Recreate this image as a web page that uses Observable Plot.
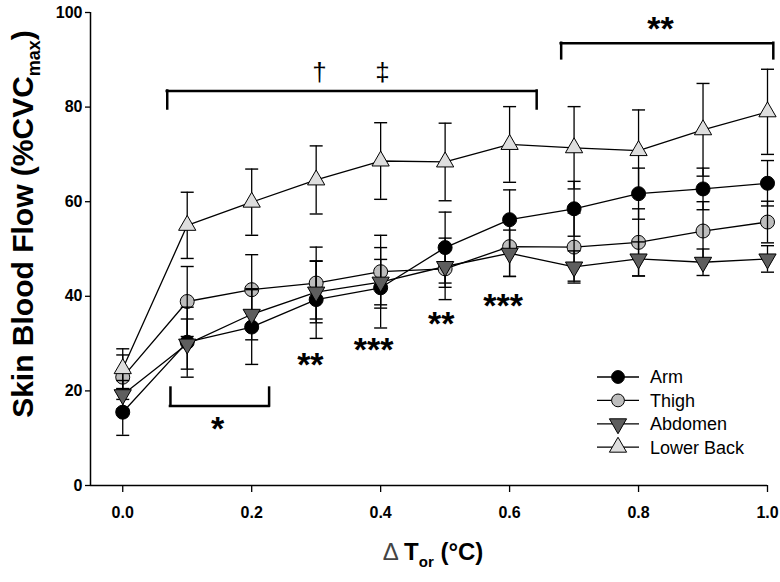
<!DOCTYPE html>
<html><head><meta charset="utf-8">
<script src="https://cdn.jsdelivr.net/npm/d3@7"></script>
<script src="https://cdn.jsdelivr.net/npm/@observablehq/plot@0.6"></script>
<style>
body{margin:0;background:#fff;}
#chart{width:780px;height:582px;}
</style>
</head><body><div id="chart"></div>
<script>
// ---- data ----
const deltaT = [0, 0.1, 0.2, 0.3, 0.4, 0.5, 0.6, 0.7, 0.8, 0.9, 1.0];
const arm       = [15.5, 30.3, 33.5, 39.3, 41.8, 50.3, 56.2, 58.5, 61.7, 62.7, 63.9];
const armSD     = [4.9, 7.4, 7.9, 8.2, 8.5, 7.5, 6.3, 5.8, 5.4, 4.4, 4.8];
const thigh     = [22.9, 38.9, 41.4, 42.8, 45.2, 45.8, 50.5, 50.4, 51.4, 53.8, 55.7];
const thighSD   = [4.7, 7.4, 7.4, 7.6, 7.7, 6.5, 6.3, 7.2, 7.1, 6.2, 4.4];
const abdomen   = [19.2, 29.9, 36.2, 40.9, 43.0, 46.3, 49.1, 46.2, 47.9, 47.2, 47.9];
const abdomenSD = [3.0, 5.3, 5.4, 6.5, 4.8, 4.4, 4.9, 3.4, 3.6, 2.8, 2.8];
const lowerBack   = [24.7, 55.0, 59.9, 64.6, 68.6, 68.4, 72.1, 71.4, 70.8, 75.2, 79.0];
const lowerBackSD = [4.2, 7.0, 7.0, 7.2, 8.1, 8.2, 8.0, 8.7, 8.6, 9.8, 9.0];
const seriesNames = ["Arm", "Thigh", "Abdomen", "Lower Back"];
const xTicks = [0, 0.2, 0.4, 0.6, 0.8, 1.0];
const yTicks = [0, 20, 40, 60, 80, 100];
// significance brackets (data units)
const bracketX1 = [0.069, 0.680, 0.074];
const bracketX2 = [0.642, 1.009, 0.227];
const bracketBar = [83.4, 93.5, 16.8];
const bracketEnd = [79.6, 90.2, 20.6];
// significance labels (data units)
const sigX = [0.147, 0.291, 0.389, 0.494, 0.590, 0.834];
const sigY = [12.7, 26.4, 29.4, 35.0, 38.8, 97.3];
const sigText = ["*", "**", "***", "**", "***", "**"];
const dagX = [0.305, 0.403];
const dagY = [87.3, 87.3];
const dagText = ["\u2020", "\u2021"];

// ---- tables ----
const values = [arm, thigh, abdomen, lowerBack];
const sds = [armSD, thighSD, abdomenSD, lowerBackSD];
const rows = seriesNames.flatMap((s, k) => deltaT.map((x, i) => ({series: s, x, y: values[k][i], sd: sds[k][i]})));
const bySeries = s => rows.filter(d => d.series === s);
const brackets = bracketX1.map((x1, i) => ({x1, x2: bracketX2[i], yBar: bracketBar[i], yEnd: bracketEnd[i]}));
const bracketEnds = brackets.flatMap(b => [{x: b.x1, y1: b.yBar, y2: b.yEnd}, {x: b.x2, y1: b.yBar, y2: b.yEnd}]);
const sigs = sigX.map((x, i) => ({x, y: sigY[i], t: sigText[i]}));
const dags = dagX.map((x, i) => ({x, y: dagY[i], t: dagText[i]}));

const capSym = {draw(ctx) { ctx.moveTo(-6.5, 0); ctx.lineTo(6.5, 0); }};
const FONT = "'Liberation Sans', Arial, Helvetica, sans-serif";

const chart = Plot.plot({
  width: 780, height: 582,
  marginLeft: 90, marginRight: 13, marginTop: 12, marginBottom: 97,
  x: {domain: [-0.05, 1.0], axis: null},
  y: {domain: [0, 100], axis: null},
  style: {fontFamily: FONT, background: "white", color: "black", overflow: "visible"},
  marks: [
    Plot.axisY(yTicks, {tickSize: 5, tickPadding: 3, fontSize: 16, fontWeight: "bold", label: null, strokeWidth: 1.3}),
    Plot.axisX(xTicks, {tickSize: 7, tickPadding: 14, fontSize: 16, fontWeight: "bold", label: null, strokeWidth: 1.3, tickFormat: d3.format(".1f")}),
    Plot.ruleX([-0.05], {y1: 0, y2: 100, stroke: "black", strokeWidth: 1.5}),
    Plot.ruleY([0], {x1: -0.05, x2: 1.0, stroke: "black", strokeWidth: 1.5}),
    Plot.line(rows, {x: "x", y: "y", z: "series", stroke: "black", strokeWidth: 1.3}),
    Plot.dot(bySeries("Arm"), {x: "x", y: "y", r: 7, fill: "black", stroke: "black", strokeWidth: 1}),
    Plot.dot(bySeries("Thigh"), {x: "x", y: "y", r: 7, fill: "#bdbdbd", stroke: "black", strokeWidth: 1}),
    Plot.ruleX(rows, {x: "x", y1: d => d.y - d.sd, y2: d => d.y + d.sd, stroke: "black", strokeWidth: 1.3}),
    Plot.dot(rows, {x: "x", y: d => d.y + d.sd, symbol: capSym, stroke: "black", fill: "none", strokeWidth: 1.4}),
    Plot.dot(rows, {x: "x", y: d => d.y - d.sd, symbol: capSym, stroke: "black", fill: "none", strokeWidth: 1.4}),
    Plot.dot(bySeries("Abdomen"), {x: "x", y: "y", r: 6.4, symbol: "triangle", rotate: 180, fill: "#5e5e5e", stroke: "black", strokeWidth: 1}),
    Plot.dot(bySeries("Lower Back"), {x: "x", y: "y", r: 6.4, symbol: "triangle", fill: "#dedede", stroke: "black", strokeWidth: 1}),
    Plot.ruleY(brackets, {y: "yBar", x1: "x1", x2: "x2", stroke: "black", strokeWidth: 2.5, strokeLinecap: "square"}),
    Plot.ruleX(bracketEnds, {x: "x", y1: "y1", y2: "y2", stroke: "black", strokeWidth: 2.5, strokeLinecap: "square"}),
    Plot.text(sigs, {x: "x", y: "y", text: "t", fontSize: 34, fontWeight: "bold", dy: 4, fill: "black"}),
    Plot.text(dags, {x: "x", y: "y", text: "t", fontSize: 26, fill: "black"})
  ]
});
document.getElementById("chart").appendChild(chart);

// ---- axis titles & legend ----
const svg = d3.select(chart);
const yt = svg.append("text")
  .attr("transform", "translate(33,224) rotate(-90)")
  .attr("text-anchor", "middle")
  .attr("font-family", FONT).attr("font-weight", "bold").attr("font-size", 30).attr("fill", "black");
yt.append("tspan").text("Skin Blood Flow (%CVC");
yt.append("tspan").attr("font-size", 18).attr("dy", 7).text("max");
yt.append("tspan").attr("dy", -7).text(")");

const xt = svg.append("text")
  .attr("x", 433).attr("y", 560)
  .attr("text-anchor", "middle")
  .attr("font-family", FONT).attr("font-size", 24).attr("fill", "black");
xt.append("tspan").attr("font-weight", "normal").attr("fill", "#444").text("\u0394 ");
xt.append("tspan").attr("font-weight", "bold").text("T");
xt.append("tspan").attr("font-weight", "bold").attr("font-size", 15).attr("dy", 7).text("or");
xt.append("tspan").attr("font-weight", "bold").attr("dy", -7).text(" (\u00B0C)");

const legendItems = [
  {name: seriesNames[0], type: d3.symbolCircle, fill: "black", rot: 0},
  {name: seriesNames[1], type: d3.symbolCircle, fill: "#bdbdbd", rot: 0},
  {name: seriesNames[2], type: d3.symbolTriangle, fill: "#5e5e5e", rot: 180},
  {name: seriesNames[3], type: d3.symbolTriangle, fill: "#dedede", rot: 0}
];
const lg = svg.append("g").attr("font-family", FONT).attr("font-size", 18).attr("text-anchor", "start");
legendItems.forEach((it, i) => {
  const y = 377 + i * 23.4;
  lg.append("line").attr("x1", 597).attr("x2", 639).attr("y1", y).attr("y2", y).attr("stroke", "black").attr("stroke-width", 1.3);
  lg.append("path")
    .attr("d", d3.symbol().type(it.type).size(Math.PI * 6.4 * 6.4)())
    .attr("transform", `translate(618,${y}) rotate(${it.rot})`)
    .attr("fill", it.fill).attr("stroke", "black").attr("stroke-width", 1);
  lg.append("text").attr("x", 650).attr("y", y).attr("dy", "0.35em").attr("text-anchor", "start").attr("fill", "black").text(it.name);
});
</script>
</body></html>
